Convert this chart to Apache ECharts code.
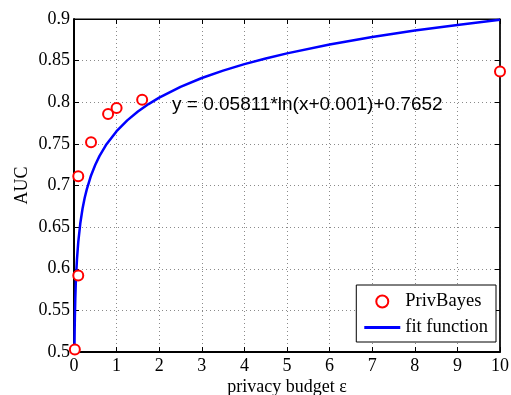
<!DOCTYPE html>
<html><head><meta charset="utf-8">
<script src="https://cdn.jsdelivr.net/npm/echarts@6/dist/echarts.min.js"></script>
<style>html,body{margin:0;padding:0;background:#fff}#c{width:511px;height:395px}</style>
</head><body><div id="c"></div>
<script>
// Data
var budgetX = [0.02, 0.1, 0.1, 0.4, 0.8, 1.0, 1.6, 10];
var aucY = [0.503, 0.592, 0.711, 0.752, 0.786, 0.793, 0.803, 0.837];
// fit curve samples (y = 0.05811*ln(x+0.001)+0.7652 as drawn)
var fitX = [0.0094, 0.01, 0.015, 0.02, 0.03, 0.04, 0.05, 0.07, 0.1, 0.15, 0.2, 0.25, 0.3, 0.4, 0.5, 0.6, 0.75, 1, 1.25, 1.5, 1.75, 2, 2.5, 3, 3.5, 4, 4.5, 5, 6, 7, 8, 9, 10];
var fitY = [0.5, 0.5031, 0.5249, 0.5407, 0.5633, 0.5796, 0.5923, 0.6115, 0.632, 0.6553, 0.672, 0.6849, 0.6954, 0.7121, 0.725, 0.7356, 0.7486, 0.7653, 0.7782, 0.7888, 0.7978, 0.8055, 0.8185, 0.8291, 0.838, 0.8458, 0.8526, 0.8587, 0.8693, 0.8783, 0.8861, 0.8929, 0.899];
var xTicks = [0,1,2,3,4,5,6,7,8,9,10];
var yTicks = ['0.5','0.55','0.6','0.65','0.7','0.75','0.8','0.85','0.9'];
var fitLabel = 'y = 0.05811*ln(x+0.001)+0.7652';
var xName = 'privacy budget ε';
var yName = 'AUC';

var serif = '"Liberation Serif", "Times New Roman", serif';
var chart = echarts.init(document.getElementById('c'));
var pts = budgetX.map(function(x,i){return [x, aucY[i]];});
var fit = fitX.map(function(x,i){return [x, fitY[i]];});
var gridLine = {show:true, lineStyle:{color:'#8a8a8a', type:[1,3], width:1}};
chart.setOption({
  animation:false,
  grid:{left:74, top:19, right:11, bottom:43, show:true, borderColor:'#000', borderWidth:1, backgroundColor:'#fff', containLabel:false, outerBoundsMode:'none'},
  xAxis:[{
    type:'value', min:xTicks[0], max:xTicks[xTicks.length-1], interval:1,
    name:xName, nameLocation:'middle', nameGap:26, nameMoveOverlap:false,
    nameTextStyle:{fontFamily:serif, fontSize:18, color:'#000', verticalAlign:'top'},
    axisLine:{show:true, onZero:false, lineStyle:{color:'#000', width:2}},
    axisTick:{show:true, inside:true, length:5, lineStyle:{color:'#000'}},
    axisLabel:{fontFamily:serif, fontSize:18, color:'#000', margin:5},
    splitLine:gridLine
  },{
    type:'value', position:'top', min:0, max:10, interval:1,
    axisLine:{show:true, onZero:false, lineStyle:{color:'#000', width:1}},
    axisTick:{show:true, inside:true, length:5, lineStyle:{color:'#000'}},
    axisLabel:{show:false}, splitLine:{show:false}
  }],
  yAxis:[{
    type:'value', min:0.5, max:0.9, interval:0.05,
    name:yName, nameLocation:'middle', nameGap:43, nameMoveOverlap:false,
    nameTextStyle:{fontFamily:serif, fontSize:18, color:'#000'},
    axisLine:{show:true, onZero:false, lineStyle:{color:'#000', width:2}},
    axisTick:{show:true, inside:true, length:5, lineStyle:{color:'#000'}},
    axisLabel:{fontFamily:serif, fontSize:18, color:'#000', margin:4,
      formatter:function(v){var i=Math.round((v-0.5)/0.05); return yTicks[i];}},
    splitLine:gridLine
  },{
    type:'value', position:'right', min:0.5, max:0.9, interval:0.05,
    axisLine:{show:true, onZero:false, lineStyle:{color:'#000', width:1.5}},
    axisTick:{show:true, inside:true, length:5, lineStyle:{color:'#000'}},
    axisLabel:{show:false}, splitLine:{show:false}
  }],
  legend:{
    orient:'vertical', right:15, bottom:53,
    backgroundColor:'#fff', borderColor:'#000', borderWidth:1, borderRadius:0,
    padding:[7,8,5,8], itemGap:7, itemWidth:36, itemHeight:12,
    textStyle:{fontFamily:serif, fontSize:18.5, color:'#000'},
    data:[{name:'PrivBayes', icon:'emptyCircle', itemStyle:{color:'#ff0000', borderColor:'#ff0000', borderWidth:2, opacity:1}},
          {name:'fit function', icon:'path://M0,0L36,0L36,3L0,3Z'}]
  },
  series:[{
    name:'fit function', type:'line', data:fit, showSymbol:false, symbol:'none',
    smooth:false, clip:true,
    lineStyle:{color:'#0000ff', width:2.5}, itemStyle:{color:'#0000ff'}, z:2
  },{
    name:'PrivBayes', type:'scatter', data:pts, symbol:'emptyCircle', symbolSize:10,
    clip:false,
    itemStyle:{color:'#ff0000', borderColor:'#ff0000', borderWidth:2.2, opacity:1}, z:3
  }],
  graphic:[{type:'text', x:172, y:105, z:10,
    style:{text:fitLabel, font:'19px "Liberation Sans", Arial, sans-serif', fill:'#000', verticalAlign:'middle'}}]
});
</script></body></html>
